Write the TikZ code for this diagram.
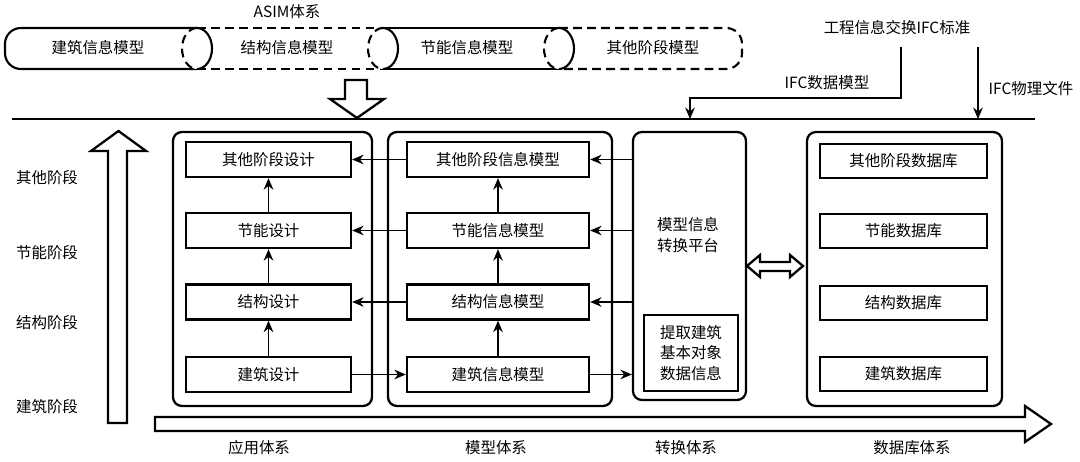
\documentclass[tikz,border=0pt]{standalone}
\usepackage{fontspec}
\setmainfont{Noto Sans CJK SC}
\usetikzlibrary{arrows.meta,calc}
\begin{document}
\begin{tikzpicture}[x=0.02cm,y=-0.02cm,
  every node/.style={font=\fontsize{8.8}{11.5}\selectfont, inner sep=0pt},
  box/.style={draw, line width=1.4pt, minimum height=0.7cm},
  cont/.style={draw, line width=1.3pt, rounded corners=5pt},
  arr/.style={line width=0.8pt, -{Stealth[length=6.5pt,width=5.5pt]}},
  hollow/.style={draw, line width=1.3pt, fill=white, line join=miter},
  tube/.style={line width=1.2pt},
  tubedash/.style={line width=1.2pt, dash pattern=on 5pt off 3pt}]
\useasboundingbox (0,0) rectangle (1080,462);

% ---------- top tubes ----------
\draw[tube, rounded corners=9pt] (197,28) -- (5,28) -- (5,69) -- (197,69);
\draw[tubedash] (197,28) -- (383,28) (197,69) -- (383,69);
\draw[tube] (383,28) -- (559,28) (383,69) -- (559,69);
\draw[tubedash, rounded corners=9pt] (559,28) -- (742,28) -- (742,69) -- (559,69);
\foreach \cx in {197,383,559}{
  \fill[white] (\cx,48.5) ellipse [x radius=15, y radius=20.5];
  \draw[tubedash] (\cx,28) arc[start angle=90, end angle=270, x radius=15, y radius=-20.5];
  \draw[tube] (\cx,28) arc[start angle=90, end angle=-90, x radius=15, y radius=-20.5];
}
\node (t1) at (98,48) {建筑信息模型};
\node (t2) at (287,48) {结构信息模型};
\node (t3) at (467,48) {节能信息模型};
\node (t4) at (653,48) {其他阶段模型};
\node (asim) at (287,12) {ASIM体系};

% down hollow arrow
\draw[hollow] (345,80) -- (367,80) -- (367,99) -- (384,99) -- (357,118) -- (330,99) -- (345,99) -- cycle;

% horizontal line
\coordinate (hl) at (12,119);
\coordinate (hr) at (1035,119);
\draw[line width=1.2pt] (hl) -- (hr);

% IFC
\node (ifcstd) at (897,28) {工程信息交换IFC标准};
\coordinate (i1) at (901,47);
\coordinate (i2) at (901,98);
\coordinate (i3) at (690,98);
\coordinate (i4) at (690,119);
\draw[arr, line width=1pt] (i1) -- (i2) -- (i3) -- (i4);
\node (ifcdm) at (827,83) {IFC数据模型};
\coordinate (j1) at (978,47);
\coordinate (j2) at (978,119);
\draw[arr, line width=1pt] (j1) -- (j2);
\node (ifcpf) at (1031,89) {IFC物理文件};

% left up hollow arrow
\draw[hollow] (108,423) -- (108,151) -- (91,151) -- (118.5,131) -- (146,151) -- (127,151) -- (127,423) -- cycle;
\node (s1) at (47,178) {其他阶段};
\node (s2) at (47,253) {节能阶段};
\node (s3) at (47,323) {结构阶段};
\node (s4) at (47,407) {建筑阶段};

% bottom right hollow arrow
\draw[hollow] (155,417) -- (1025,417) -- (1025,406) -- (1051,424) -- (1025,442) -- (1025,431) -- (155,431) -- cycle;
\node (b1) at (259,448) {应用体系};
\node (b2) at (496,448) {模型体系};
\node (b3) at (686,448) {转换体系};
\node (b4) at (912,448) {数据库体系};

% containers
\node[cont, minimum width=3.98cm, minimum height=5.48cm] (ac) at (272.5,269) {};
\node[cont, minimum width=4.48cm, minimum height=5.48cm] (mc) at (500,269) {};
\node[cont, minimum width=2.26cm, minimum height=5.36cm] (tc) at (689.5,266) {};
\node[cont, minimum width=3.9cm, minimum height=5.48cm] (dc) at (904.5,269) {};

% app boxes
\node[box, minimum width=3.3cm] (a1) at (268.5,159.5) {其他阶段设计};
\node[box, minimum width=3.3cm] (a2) at (268.5,230.5) {节能设计};
\node[box, minimum width=3.3cm] (a3) at (268.5,302) {结构设计};
\node[box, minimum width=3.3cm] (a4) at (268.5,374.5) {建筑设计};
% model boxes
\node[box, minimum width=3.64cm] (m1) at (498,159.5) {其他阶段信息模型};
\node[box, minimum width=3.64cm] (m2) at (498,230.5) {节能信息模型};
\node[box, minimum width=3.64cm] (m3) at (498,302) {结构信息模型};
\node[box, minimum width=3.64cm] (m4) at (498,374.5) {建筑信息模型};
% transform
\node[align=center] (tt) at (688,235) {模型信息\\转换平台};
\node[box, minimum width=1.88cm, minimum height=1.52cm, align=center] (tb) at (691,353) {提取建筑\\基本对象\\数据信息};
% db boxes
\node[box, minimum width=3.34cm, minimum height=0.68cm] (d1) at (903.5,161) {其他阶段数据库};
\node[box, minimum width=3.34cm, minimum height=0.68cm] (d2) at (903.5,231) {节能数据库};
\node[box, minimum width=3.34cm, minimum height=0.68cm] (d3) at (903.5,303) {结构数据库};
\node[box, minimum width=3.34cm, minimum height=0.68cm] (d4) at (903.5,374) {建筑数据库};

% double hollow arrow
\draw[hollow] (747,266) -- (760,255) -- (760,262) -- (790,262) -- (790,255) -- (803,266) -- (790,277) -- (790,271) -- (760,271) -- (760,277) -- cycle;

% connectors
\draw[arr] (a4) -- (a3);
\draw[arr] (a3) -- (a2);
\draw[arr] (a2) -- (a1);
\draw[arr] (m4) -- (m3);
\draw[arr] (m3) -- (m2);
\draw[arr] (m2) -- (m1);
\draw[arr] (m1) -- (a1);
\draw[arr] (m2) -- (a2);
\draw[arr] (m3) -- (a3);
\draw[arr] (a4) -- (m4);
\draw[arr] (tc.west |- m1) -- (m1.east);
\draw[arr] (tc.west |- m2) -- (m2.east);
\draw[arr] (tc.west |- m3) -- (m3.east);
\draw[arr] (m4.east) -- (tc.west |- m4);
\end{tikzpicture}
\end{document}
